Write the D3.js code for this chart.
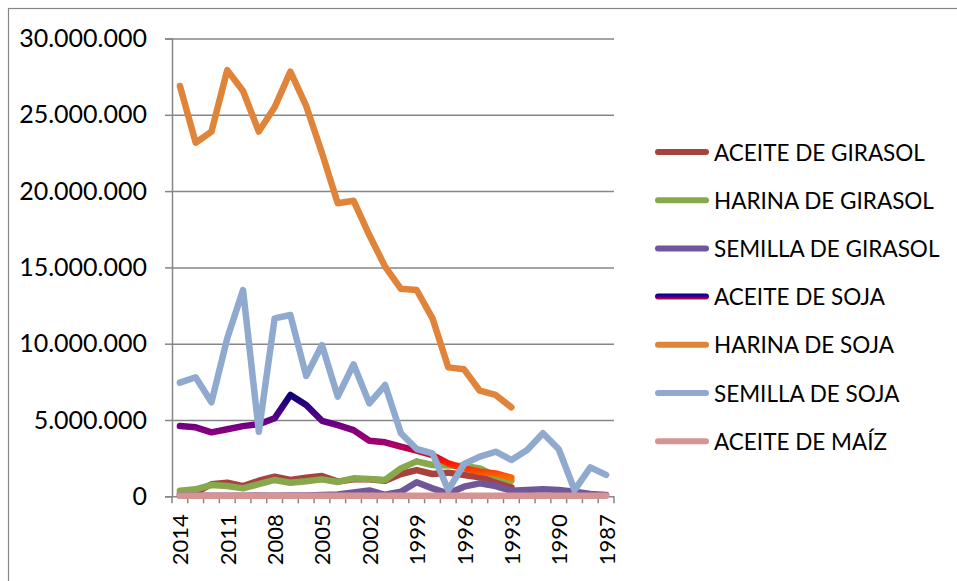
<!DOCTYPE html>
<html>
<head>
<meta charset="utf-8">
<script src="https://cdn.jsdelivr.net/npm/d3@7"></script>
<style>
  body { margin: 0; background: #fff; }
  text { font-family: Lato, "Liberation Sans", sans-serif; fill: #000; }
</style>
</head>
<body>
<script>
const width = 957;
const height = 581;

// Years, newest first (as in the original axis).
const years = d3.range(2014, 1986, -1);
const yTicks = [0, 5e6, 10e6, 15e6, 20e6, 25e6, 30e6];
const xLabelYears = [2014, 2011, 2008, 2005, 2002, 1999, 1996, 1993, 1990, 1987];

// Series values (tonnes), 2014 -> 1987.
const aceiteGirasol = [0.15e6, 0.24e6, 0.79e6, 0.89e6, 0.67e6, 1.02e6, 1.28e6, 1.07e6, 1.22e6, 1.33e6,
  0.96e6, 1.11e6, 1.11e6, 1.02e6, 1.46e6, 1.72e6, 1.46e6, 1.55e6, 1.4e6, 1.25e6, 0.96e6, 0.59e6];
const harinaGirasol = [0.37e6, 0.46e6, 0.74e6, 0.67e6, 0.52e6, 0.8e6, 1.07e6, 0.89e6, 0.98e6, 1.11e6,
  0.94e6, 1.18e6, 1.13e6, 1.07e6, 1.83e6, 2.29e6, 2.05e6, 2.02e6, 1.98e6, 1.83e6, 1.33e6, 1.02e6];
const semillaGirasol = [0.03e6, 0.03e6, 0.04e6, 0.03e6, 0.04e6, 0.05e6, 0.04e6, 0.05e6, 0.06e6, 0.08e6,
  0.12e6, 0.25e6, 0.38e6, 0.1e6, 0.3e6, 0.92e6, 0.52e6, 0.18e6, 0.63e6, 0.85e6, 0.67e6, 0.37e6,
  0.41e6, 0.46e6, 0.42e6, 0.3e6, 0.15e6, 0.08e6];
const aceiteSoja = [4.6e6, 4.52e6, 4.19e6, 4.39e6, 4.6e6, 4.72e6, 5.11e6, 6.64e6, 5.98e6, 4.95e6,
  4.67e6, 4.34e6, 3.64e6, 3.54e6, 3.25e6, 2.99e6, 2.7e6, 2.16e6, 1.83e6, 1.61e6, 1.5e6, 1.22e6];
const harinaSoja = [26.89e6, 23.17e6, 23.9e6, 27.93e6, 26.56e6, 23.9e6, 25.49e6, 27.83e6, 25.58e6, 22.5e6,
  19.2e6, 19.37e6, 17.12e6, 15.05e6, 13.6e6, 13.52e6, 11.66e6, 8.45e6, 8.32e6, 6.92e6, 6.64e6, 5.83e6];
const semillaSoja = [7.45e6, 7.8e6, 6.16e6, 10.35e6, 13.52e6, 4.23e6, 11.66e6, 11.88e6, 7.88e6, 9.91e6,
  6.53e6, 8.65e6, 6.09e6, 7.29e6, 4.13e6, 3.1e6, 2.82e6, 0.41e6, 2.12e6, 2.6e6, 2.92e6, 2.38e6,
  3.03e6, 4.13e6, 3.08e6, 0.41e6, 1.9e6, 1.4e6];
const aceiteMaiz = [0.03e6, 0.03e6, 0.03e6, 0.03e6, 0.03e6, 0.03e6, 0.03e6, 0.03e6, 0.03e6, 0.03e6,
  0.03e6, 0.03e6, 0.03e6, 0.03e6, 0.03e6, 0.03e6, 0.03e6, 0.03e6, 0.03e6, 0.03e6, 0.03e6, 0.03e6,
  0.03e6, 0.03e6, 0.03e6, 0.03e6, 0.03e6, 0.03e6];

const series = [
  { name: 'ACEITE DE GIRASOL', values: aceiteGirasol, color: '#A8423F' },
  { name: 'HARINA DE GIRASOL', values: harinaGirasol, color: '#88A94B' },
  { name: 'SEMILLA DE GIRASOL', values: semillaGirasol, color: '#70579A' },
  { name: 'ACEITE DE SOJA', values: aceiteSoja, color: 'url(#sojaGrad)' },
  { name: 'HARINA DE SOJA', values: harinaSoja, color: '#E0843A' },
  { name: 'SEMILLA DE SOJA', values: semillaSoja, color: '#90AACF' },
  { name: 'ACEITE DE MAÍZ', values: aceiteMaiz, color: '#D69594' }
];

const plot = { left: 172, right: 614, top: 38.5, bottom: 496.3 };

let svg = d3.select('body').append('svg')
  .attr('width', width)
  .attr('height', height);

// Outer chart frame (runs past right and bottom edge).
svg.append('rect')
  .attr('x', 8.5).attr('y', 8.5)
  .attr('width', width + 10).attr('height', height + 10)
  .attr('fill', 'none').attr('stroke', '#868686').attr('stroke-width', 1.2);

let xScale = d3.scaleBand().domain(years).range([plot.left, plot.right]);
let yScale = d3.scaleLinear().domain([0, 30e6]).range([plot.bottom, plot.top]);
let xc = (d) => xScale(d) + xScale.bandwidth() / 2;

const es = d3.formatLocale({ decimal: ',', thousands: '.', grouping: [3], currency: ['', ''] });

// Gradient for the soybean oil line (vertical, by value).
let defs = svg.append('defs');
let grad = defs.append('linearGradient')
  .attr('id', 'sojaGrad')
  .attr('gradientUnits', 'userSpaceOnUse')
  .attr('x1', 0).attr('x2', 0)
  .attr('y1', yScale(6.7e6)).attr('y2', yScale(1.2e6));
[[6.7e6, '#0A0078'], [5.4e6, '#4A0088'], [4.4e6, '#80007E'], [3.5e6, '#A00070'],
 [2.9e6, '#C80040'], [2.2e6, '#FF1800'], [1.2e6, '#FF6A00']].forEach(([v, c]) => {
  grad.append('stop')
    .attr('offset', (yScale(v) - yScale(6.7e6)) / (yScale(1.2e6) - yScale(6.7e6)))
    .attr('stop-color', c);
});
let legGrad = defs.append('linearGradient')
  .attr('id', 'sojaLeg').attr('x1', 0).attr('x2', 0).attr('y1', 0).attr('y2', 1);
legGrad.append('stop').attr('offset', 0).attr('stop-color', '#000080');
legGrad.append('stop').attr('offset', 0.55).attr('stop-color', '#3A00A0');
legGrad.append('stop').attr('offset', 1).attr('stop-color', '#FF0000');

// Y axis with gridlines.
let yAxis = d3.axisLeft(yScale)
  .tickValues(yTicks)
  .tickFormat(es.format(',d'))
  .tickSize(7)
  .tickPadding(18);
let gy = svg.append('g').attr('transform', `translate(${plot.left}, 0)`).call(yAxis);
gy.select('.domain').attr('stroke', '#868686').attr('stroke-width', 1.5);
gy.selectAll('.tick line').attr('stroke', '#868686').attr('stroke-width', 1.5);
gy.selectAll('.tick text').attr('font-size', 25);
gy.selectAll('.tick').append('line')
  .attr('x1', 0).attr('x2', plot.right - plot.left)
  .attr('stroke', '#868686').attr('stroke-width', 1.5);

// X axis: ticks between categories, labels every third year.
let gx = svg.append('g').attr('transform', `translate(0, ${plot.bottom})`);
gx.selectAll('line.tk')
  .data(years.map((d) => xScale(d)).concat([plot.right]))
  .join('line')
  .attr('class', 'tk')
  .attr('x1', (d) => d).attr('x2', (d) => d)
  .attr('y1', 0).attr('y2', 7)
  .attr('stroke', '#868686').attr('stroke-width', 1.5);
gx.selectAll('text')
  .data(xLabelYears)
  .join('text')
  .attr('transform', (d) => `translate(${xc(d)}, 18) rotate(-90)`)
  .attr('text-anchor', 'end')
  .attr('dominant-baseline', 'central')
  .attr('font-size', 22)
  .text((d) => d);

// Lines.
let line = d3.line()
  .x((d, i) => xc(years[i]))
  .y((d) => yScale(d));

svg.append('g').selectAll('path')
  .data(series)
  .join('path')
  .attr('d', (s) => line(s.values))
  .attr('fill', 'none')
  .attr('stroke', (s) => s.color)
  .attr('stroke-width', 6.5)
  .attr('stroke-linejoin', 'round')
  .attr('stroke-linecap', 'round');

// Legend.
let legend = svg.append('g');
let rows = legend.selectAll('g')
  .data(series)
  .join('g')
  .attr('transform', (d, i) => `translate(655, ${152 + i * 48.2})`);
rows.append('rect')
  .attr('x', 0).attr('y', -3).attr('width', 54).attr('height', 6).attr('rx', 3)
  .attr('fill', (d) => d.name === 'ACEITE DE SOJA' ? 'url(#sojaLeg)' : d.color);
rows.append('text')
  .attr('x', 59)
  .attr('dominant-baseline', 'central')
  .attr('font-size', 22.5)
  .text((d) => d.name);
</script>
</body>
</html>
